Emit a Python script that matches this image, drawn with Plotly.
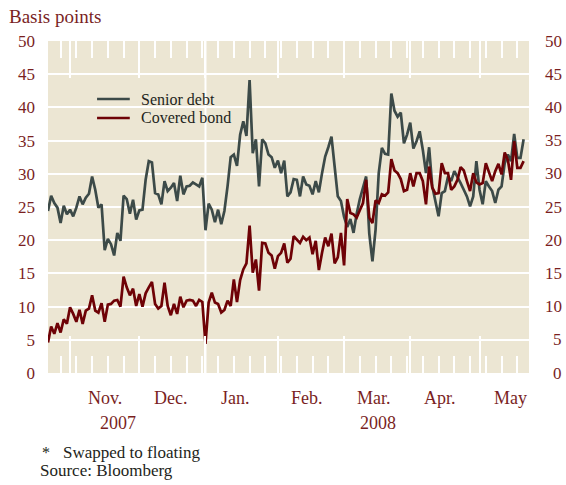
import pandas as pd
import plotly.graph_objects as go

# Daily spreads (business days), basis points
dates = pd.bdate_range("2007-10-23", periods=152)

senior_debt = [
    24.4, 26.7, 25.6, 24.9, 22.6, 25.2, 23.9, 24.6, 23.6, 24.9,
    26.6, 25.4, 26.4, 27.0, 29.6, 27.6, 24.9, 25.4, 18.5, 20.2,
    19.4, 17.7, 21.1, 19.9, 26.7, 26.2, 24.0, 26.1, 23.1, 24.5,
    24.6, 29.1, 31.9, 31.7, 27.1, 26.9, 25.4, 28.9, 27.4, 27.9,
    28.6, 25.9, 29.7, 26.9, 28.1, 28.2, 28.7, 28.4, 28.1, 29.4,
    21.5, 25.5, 24.6, 22.7, 24.6, 22.4, 24.4, 28.1, 32.5, 32.9,
    31.2, 35.9, 37.9, 35.7, 44.1, 33.1, 35.2, 28.1, 35.2, 34.6,
    32.9, 32.5, 30.9, 32.0, 30.1, 32.0, 26.6, 27.2, 29.2, 29.1,
    26.6, 29.6, 28.4, 28.2, 26.9, 28.9, 27.2, 30.1, 32.6, 34.0,
    35.6, 31.1, 26.6, 25.9, 23.5, 22.0, 23.2, 21.1, 24.0, 26.2,
    27.9, 29.6, 21.0, 16.8, 21.6, 30.1, 33.9, 33.0, 32.9, 42.1,
    39.5, 38.6, 39.2, 34.6, 35.9, 37.7, 33.8, 34.9, 36.4, 33.6,
    30.1, 34.0, 28.1, 25.6, 23.6, 27.1, 27.4, 29.6, 28.9, 30.4,
    29.6, 28.6, 27.6, 26.6, 25.1, 26.6, 31.9, 27.6, 25.4, 28.9,
    28.1, 27.4, 25.6, 27.6, 28.1, 31.6, 32.9, 31.9, 36.0, 32.4,
    32.4, 35.2,
]

covered_bond = [
    4.6, 7.0, 5.9, 7.5, 6.1, 8.1, 7.4, 9.9, 8.9, 7.7,
    9.5, 7.4, 9.4, 9.7, 11.7, 9.4, 9.1, 10.5, 7.7, 10.3,
    10.4, 10.9, 11.0, 10.0, 14.5, 12.9, 11.7, 12.7, 10.1, 11.9,
    10.0, 12.0, 12.9, 13.7, 10.4, 9.7, 10.1, 13.6, 10.1, 8.7,
    10.4, 8.9, 11.5, 9.9, 10.9, 11.0, 10.9, 10.1, 11.0, 10.7,
    4.4, 10.6, 12.1, 10.6, 10.4, 9.1, 9.5, 10.9, 10.1, 14.1,
    10.7, 14.0, 15.6, 16.5, 22.2, 15.1, 17.1, 12.4, 19.6, 19.5,
    18.1, 17.7, 15.7, 17.6, 18.1, 19.5, 16.6, 17.2, 20.6, 20.1,
    19.6, 20.5, 20.0, 20.4, 17.9, 19.9, 15.5, 18.1, 20.4, 19.1,
    21.0, 16.5, 17.4, 21.1, 16.2, 26.2, 24.1, 23.9, 23.4, 24.5,
    25.6, 29.1, 23.4, 22.6, 26.0, 25.6, 26.9, 26.7, 27.2, 32.2,
    30.5, 30.1, 29.2, 27.4, 27.6, 30.1, 28.1, 30.1, 30.1, 28.9,
    25.4, 31.1, 27.9, 27.0, 27.1, 31.6, 30.1, 30.1, 27.6, 28.1,
    29.1, 31.0, 30.5, 28.9, 27.4, 30.1, 28.7, 28.4, 28.6, 31.6,
    30.1, 28.9, 30.4, 31.5, 29.9, 33.2, 32.1, 29.1, 34.9, 30.9,
    30.9, 31.9,
]

series_names = ["Senior debt", "Covered bond"]

y_ticks = [0, 5, 10, 15, 20, 25, 30, 35, 40, 45, 50]

month_starts = ["2007-11-01", "2007-12-03", "2008-01-01", "2008-02-01",
                "2008-03-03", "2008-04-01", "2008-05-01"]
week_starts = pd.date_range("2007-10-29", "2008-05-19", freq="W-MON")

month_labels = ["Nov.", "Dec.", "Jan.", "Feb.", "Mar.", "Apr.", "May"]
month_label_at = ["2007-11-16 00:00", "2007-12-17 00:00", "2008-01-14 12:00",
                  "2008-02-14 05:00", "2008-03-14 12:00", "2008-04-14 10:00",
                  "2008-05-14 17:00"]
year_labels = ["2007", "2008"]
year_label_at = ["2007-11-22 05:00", "2008-03-17 19:00"]

SERIF = "Liberation Serif, Times New Roman, serif"
AXIS_RED = "#7A1F1F"
INK = "#231F20"
BEIGE = "#ECE6D3"
SLATE = "#3C4A48"
MAROON = "#6E0206"
COLORS = [SLATE, MAROON]

fig = go.Figure()
for name, values, color in zip(series_names, [senior_debt, covered_bond], COLORS):
    fig.add_trace(go.Scatter(x=dates, y=values, mode="lines", name=name,
                             line=dict(color=color, width=2.7), showlegend=False))

annotations = []
for lab, at in zip(month_labels, month_label_at):
    annotations.append(dict(x=at, y=0, xref="x", yref="paper", yshift=-25,
                            text=lab, showarrow=False, xanchor="center", yanchor="middle",
                            font=dict(family=SERIF, size=18, color=AXIS_RED)))
for lab, at in zip(year_labels, year_label_at):
    annotations.append(dict(x=at, y=0, xref="x", yref="paper", yshift=-50,
                            text=lab, showarrow=False, xanchor="center", yanchor="middle",
                            font=dict(family=SERIF, size=18, color=AXIS_RED)))
# right-hand scale, right aligned
for v in y_ticks:
    annotations.append(dict(x=1, y=v, xref="paper", yref="y", xshift=35,
                            text=str(v), showarrow=False, xanchor="right", yanchor="middle",
                            font=dict(family=SERIF, size=17, color=AXIS_RED)))

# key: short line samples with labels inside the plot area
key_y = [0.8253, 0.7681]
shapes = [dict(type="line", x0="2008-01-01", x1="2008-01-01", xref="x",
               y0=0, y1=1, yref="paper", line=dict(color="white", width=2), layer="below")]
for name, color, ky in zip(series_names, COLORS, key_y):
    shapes.append(dict(type="line", xref="paper", yref="paper", x0=0.102, x1=0.170,
                       y0=ky, y1=ky, line=dict(color=color, width=2.7)))
    annotations.append(dict(x=0.189, y=ky, xref="paper", yref="paper", text=name,
                            showarrow=False, xanchor="left", yanchor="middle",
                            font=dict(family=SERIF, size=16, color=INK)))

annotations += [
    dict(x=0, y=0, xref="paper", yref="paper", xshift=-8, yshift=-79, text="*",
         showarrow=False, xanchor="left", yanchor="middle",
         font=dict(family=SERIF, size=16, color=INK)),
    dict(x=0, y=0, xref="paper", yref="paper", xshift=13, yshift=-79,
         text="Swapped to floating", showarrow=False, xanchor="left", yanchor="middle",
         font=dict(family=SERIF, size=17, color=INK)),
    dict(x=0, y=0, xref="paper", yref="paper", xshift=-10, yshift=-97,
         text="Source: Bloomberg", showarrow=False, xanchor="left", yanchor="middle",
         font=dict(family=SERIF, size=17, color=INK)),
]

fig.update_layout(
    width=566, height=485,
    margin=dict(l=48, r=37, t=41, b=112),
    paper_bgcolor="white",
    plot_bgcolor=BEIGE,
    title=dict(text="Basis points", x=9 / 566, y=1 - 16 / 485, xanchor="left", yanchor="middle",
               xref="container", yref="container",
               font=dict(family=SERIF, size=19, color=AXIS_RED)),
    showlegend=False,
    annotations=annotations,
    shapes=shapes,
    xaxis=dict(
        type="date",
        range=["2007-10-23 00:00", "2008-05-22 17:00"],
        rangebreaks=[dict(bounds=["sat", "mon"])],
        tickmode="array", tickvals=month_starts, showticklabels=False,
        ticks="inside", ticklen=37, tickwidth=2, tickcolor="white",
        mirror="ticks", showline=False, showgrid=False, zeroline=False,
        minor=dict(tickmode="array", tickvals=list(week_starts), ticks="inside",
                   ticklen=17, tickwidth=2, tickcolor="white", showgrid=False),
    ),
    yaxis=dict(
        range=[0, 50], tickmode="array", tickvals=y_ticks,
        showgrid=True, gridcolor="white", gridwidth=2,
        zeroline=False, showline=False, ticks="",
        ticklabelstandoff=12,
        tickfont=dict(family=SERIF, size=17, color=AXIS_RED),
    ),
)

fig.write_html("out.html")
